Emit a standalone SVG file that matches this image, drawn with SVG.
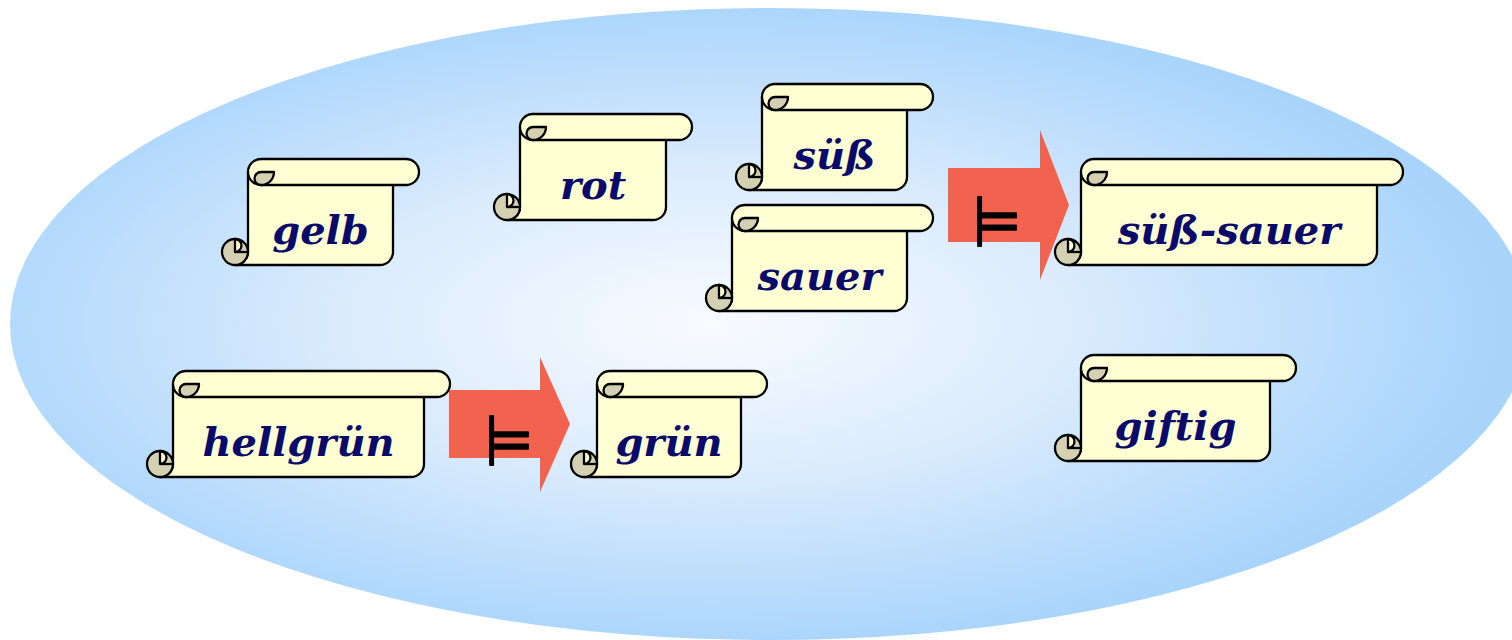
<svg xmlns="http://www.w3.org/2000/svg" xmlns:xlink="http://www.w3.org/1999/xlink" width="1512" height="640" viewBox="0 0 1512 640">
<defs>
<radialGradient id="bg" cx="0.46" cy="0.5" r="0.52">
<stop offset="0" stop-color="#f8fbff"/>
<stop offset="0.45" stop-color="#dcecfd"/>
<stop offset="1" stop-color="#a8d4fc"/>
</radialGradient>
<g id="curls">
<path class="dark" d="M39,13 H52 A13 13 0 0 1 39,26 A6.5 6.5 0 0 1 39,13 Z"/>
<circle class="dark" cx="13" cy="93" r="13"/>
<path class="paper" d="M13,80 A6.5 6.5 0 0 1 13,93 Z"/>
<path class="ln" d="M13,93 H26"/>
</g>
</defs>
<style>
.paper{fill:#ffffd4;stroke:#000;stroke-width:2.3;stroke-linejoin:round}
.dark{fill:#d3d1b1;stroke:#000;stroke-width:2.3;stroke-linejoin:round}
.ln{fill:none;stroke:#000;stroke-width:2.3}
.lbl{font-family:"DejaVu Serif","Liberation Serif",serif;font-style:italic;font-weight:bold;font-size:40px;fill:#0a0a6a;text-anchor:middle}
.arrow{fill:#f2634f}
.ent{font-family:"DejaVu Sans","Liberation Sans",sans-serif;font-size:70px;fill:#000;stroke:#000;stroke-width:2;stroke-linejoin:round;stroke-linecap:round;text-anchor:middle}
</style>
<ellipse cx="770" cy="324" rx="760" ry="316" fill="url(#bg)"/>
<g id="connectors">
<polygon class="arrow" points="948,168 1040,168 1040,130 1069,205 1040,280 1040,242 948,242"/>
<text class="ent" transform="translate(997,246) scale(0.78,1)" x="0" y="0">⊨</text>
<polygon class="arrow" points="449,390 540,390 540,357 570,424 540,492 540,458 449,458"/>
<text class="ent" transform="translate(509,465) scale(0.78,1)" x="0" y="0">⊨</text>
</g>
<g id="gelb" transform="translate(222,159)">
<path class="paper" d="M26,13 H171 V93 A13 13 0 0 1 158,106 H13 A13 13 0 0 0 26,93 Z"/>
<path class="paper" d="M39,0 H184 A13 13 0 0 1 184,26 H39 A13 13 0 0 1 39,0 Z"/>
<use xlink:href="#curls"/>
<text class="lbl" x="98.5" y="85">gelb</text>
</g>
<g id="rot" transform="translate(494,114)">
<path class="paper" d="M26,13 H172 V93 A13 13 0 0 1 159,106 H13 A13 13 0 0 0 26,93 Z"/>
<path class="paper" d="M39,0 H185 A13 13 0 0 1 185,26 H39 A13 13 0 0 1 39,0 Z"/>
<use xlink:href="#curls"/>
<text class="lbl" x="99" y="85">rot</text>
</g>
<g id="suess" transform="translate(736,84)">
<path class="paper" d="M26,13 H171 V93 A13 13 0 0 1 158,106 H13 A13 13 0 0 0 26,93 Z"/>
<path class="paper" d="M39,0 H184 A13 13 0 0 1 184,26 H39 A13 13 0 0 1 39,0 Z"/>
<use xlink:href="#curls"/>
<text class="lbl" x="98.5" y="85">süß</text>
</g>
<g id="sauer" transform="translate(706,205)">
<path class="paper" d="M26,13 H201 V93 A13 13 0 0 1 188,106 H13 A13 13 0 0 0 26,93 Z"/>
<path class="paper" d="M39,0 H214 A13 13 0 0 1 214,26 H39 A13 13 0 0 1 39,0 Z"/>
<use xlink:href="#curls"/>
<text class="lbl" x="113.5" y="85">sauer</text>
</g>
<g id="suess-sauer" transform="translate(1055,159)">
<path class="paper" d="M26,13 H322 V93 A13 13 0 0 1 309,106 H13 A13 13 0 0 0 26,93 Z"/>
<path class="paper" d="M39,0 H335 A13 13 0 0 1 335,26 H39 A13 13 0 0 1 39,0 Z"/>
<use xlink:href="#curls"/>
<text class="lbl" x="174" y="85">süß-sauer</text>
</g>
<g id="hellgruen" transform="translate(147,371)">
<path class="paper" d="M26,13 H277 V93 A13 13 0 0 1 264,106 H13 A13 13 0 0 0 26,93 Z"/>
<path class="paper" d="M39,0 H290 A13 13 0 0 1 290,26 H39 A13 13 0 0 1 39,0 Z"/>
<use xlink:href="#curls"/>
<text class="lbl" x="151.5" y="85">hellgrün</text>
</g>
<g id="gruen" transform="translate(571,371)">
<path class="paper" d="M26,13 H170 V93 A13 13 0 0 1 157,106 H13 A13 13 0 0 0 26,93 Z"/>
<path class="paper" d="M39,0 H183 A13 13 0 0 1 183,26 H39 A13 13 0 0 1 39,0 Z"/>
<use xlink:href="#curls"/>
<text class="lbl" x="98" y="85">grün</text>
</g>
<g id="giftig" transform="translate(1055,355)">
<path class="paper" d="M26,13 H215 V93 A13 13 0 0 1 202,106 H13 A13 13 0 0 0 26,93 Z"/>
<path class="paper" d="M39,0 H228 A13 13 0 0 1 228,26 H39 A13 13 0 0 1 39,0 Z"/>
<use xlink:href="#curls"/>
<text class="lbl" x="120.5" y="85">giftig</text>
</g>
</svg>
